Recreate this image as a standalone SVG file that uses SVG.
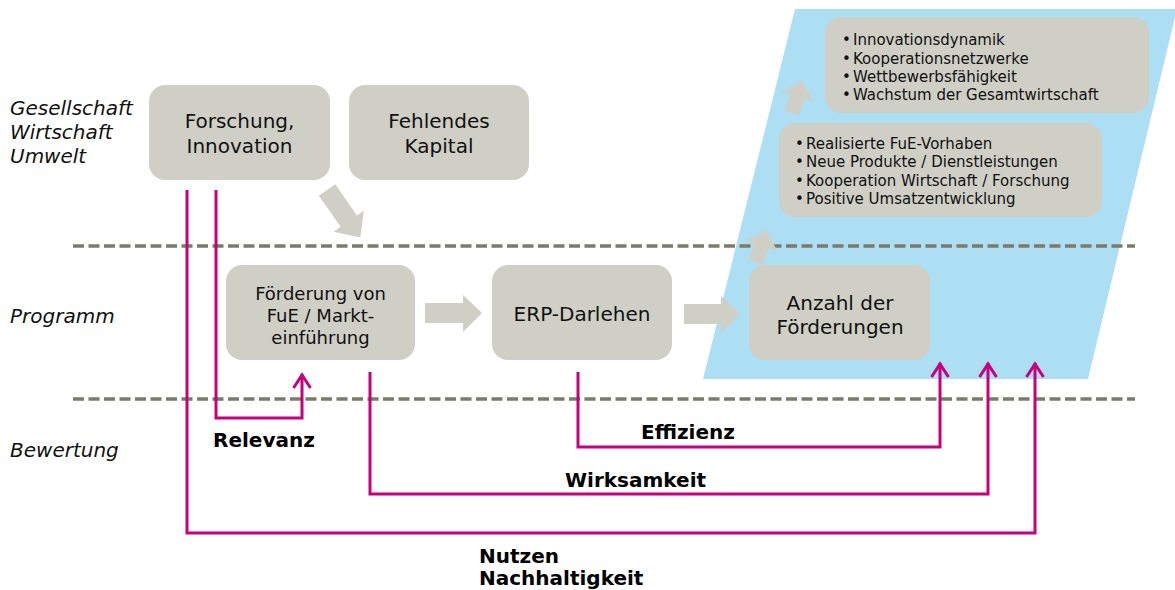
<svg xmlns="http://www.w3.org/2000/svg" width="1175" height="590" viewBox="0 0 1175 590">
<defs>
<style>
text{font-family:"DejaVu Sans","Verdana",sans-serif;fill:#111}
.box{fill:#cfcfc6}
.bt{font-size:20px;text-anchor:middle}
.bt18{font-size:18px;text-anchor:middle}
.lane{font-size:20px;font-style:italic}
.lbl{font-size:20px;font-weight:bold;fill:#000}
.bul{font-size:15px}
.dash{stroke:#7b7b69;stroke-width:3.5;stroke-dasharray:11 4.5;fill:none}
.mag{stroke:#c6007e;stroke-width:3;fill:none;stroke-linejoin:miter}
.blk{fill:#cfcfc6}
</style>
<marker id="chev" viewBox="0 0 20 20" refX="18" refY="10" markerWidth="20" markerHeight="20" markerUnits="userSpaceOnUse" orient="auto">
<path d="M4,1.5 L17,10 L4,18.5" fill="none" stroke="#c6007e" stroke-width="3"/>
</marker>
</defs>
<rect width="1175" height="590" fill="#fff"/>

<g id="impact-area">
<polygon points="795,9 1177,9 1088,379 703,379" fill="#acdff3"/>
</g>

<g id="lane-separators">
<line class="dash" x1="73" y1="246" x2="1135" y2="246"/>
<line class="dash" x1="73" y1="399" x2="1135" y2="399"/>
</g>

<g id="lane-labels">
<text class="lane" x="10" y="115">Gesellschaft</text>
<text class="lane" x="10" y="139">Wirtschaft</text>
<text class="lane" x="10" y="163">Umwelt</text>
<text class="lane" x="10" y="323">Programm</text>
<text class="lane" x="10" y="457">Bewertung</text>
</g>

<g id="node-forschung">
<rect class="box" x="149" y="85" width="181" height="95" rx="16"/>
<text class="bt" x="239.5" y="128">Forschung,</text>
<text class="bt" x="239.5" y="153">Innovation</text>
</g>

<g id="node-kapital">
<rect class="box" x="349" y="85" width="180" height="95" rx="16"/>
<text class="bt" x="439" y="128">Fehlendes</text>
<text class="bt" x="439" y="153">Kapital</text>
</g>

<g id="node-foerderung">
<rect class="box" x="226" y="265" width="189" height="95" rx="16"/>
<text class="bt18" x="320.5" y="300">Förderung von</text>
<text class="bt18" x="320.5" y="322">FuE / Markt-</text>
<text class="bt18" x="320.5" y="344">einführung</text>
</g>

<g id="node-erp">
<rect class="box" x="492" y="265" width="180" height="95" rx="16"/>
<text class="bt" x="582" y="321">ERP-Darlehen</text>
</g>

<g id="node-anzahl">
<rect class="box" x="749" y="265" width="181" height="95" rx="16"/>
<text class="bt" x="840" y="310">Anzahl der</text>
<text class="bt" x="840" y="334">Förderungen</text>
</g>

<g id="node-outcome">
<rect class="box" x="779" y="123" width="323" height="94" rx="16"/>
<text class="bul"><tspan x="795" y="149">•</tspan><tspan x="806" y="149">Realisierte FuE-Vorhaben</tspan></text>
<text class="bul"><tspan x="795" y="167">•</tspan><tspan x="806" y="167">Neue Produkte / Dienstleistungen</tspan></text>
<text class="bul"><tspan x="795" y="186">•</tspan><tspan x="806" y="186">Kooperation Wirtschaft / Forschung</tspan></text>
<text class="bul"><tspan x="795" y="204">•</tspan><tspan x="806" y="204">Positive Umsatzentwicklung</tspan></text>
</g>

<g id="node-impact">
<rect class="box" x="825" y="17" width="324" height="96" rx="16"/>
<text class="bul"><tspan x="842" y="45">•</tspan><tspan x="853" y="45">Innovationsdynamik</tspan></text>
<text class="bul"><tspan x="842" y="63.5">•</tspan><tspan x="853" y="63.5">Kooperationsnetzwerke</tspan></text>
<text class="bul"><tspan x="842" y="82">•</tspan><tspan x="853" y="82">Wettbewerbsfähigkeit</tspan></text>
<text class="bul"><tspan x="842" y="100">•</tspan><tspan x="853" y="100">Wachstum der Gesamtwirtschaft</tspan></text>
</g>

<g id="flow-arrows">
<polygon class="blk" transform="translate(327,190) rotate(55)" points="0,-10 38,-10 38,-18.5 58,0 38,18.5 38,10 0,10"/>
<polygon class="blk" points="425,303 463,303 463,295 482,313 463,332 463,323 425,323"/>
<polygon class="blk" points="684,304 721,304 721,296 740,314 721,333 721,324 684,324"/>
<polygon class="blk" transform="translate(792,113) rotate(-72)" points="0,-7.5 17,-7.5 17,-17 33,0 17,17 17,7.5 0,7.5"/>
<polygon class="blk" transform="translate(756,262) rotate(-72)" points="0,-7.5 17,-7.5 17,-17 33,0 17,17 17,7.5 0,7.5"/>
</g>

<g id="connectors">
<polyline class="mag" points="216,190 216,418 302,418 302,374" marker-end="url(#chev)"/>
<polyline class="mag" points="578,372 578,447 940,447 940,363" marker-end="url(#chev)"/>
<polyline class="mag" points="370,372 370,494 988,494 988,363" marker-end="url(#chev)"/>
<polyline class="mag" points="187,190 187,533 1035,533 1035,363" marker-end="url(#chev)"/>
</g>

<g id="connector-labels">
<text class="lbl" x="213" y="447">Relevanz</text>
<text class="lbl" x="641" y="439">Effizienz</text>
<text class="lbl" x="565" y="487">Wirksamkeit</text>
<text class="lbl" x="479" y="563">Nutzen</text>
<text class="lbl" x="479" y="585">Nachhaltigkeit</text>
</g>
</svg>
